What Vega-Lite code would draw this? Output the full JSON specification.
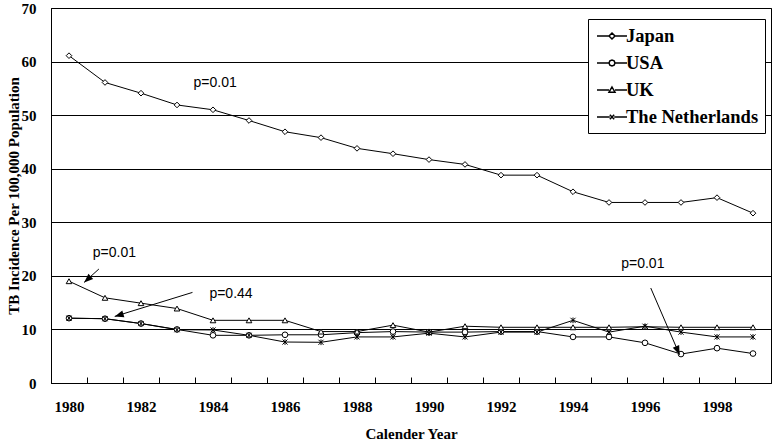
{
  "$schema": "https://vega.github.io/schema/vega-lite/v6.json",
  "width": 720,
  "height": 375,
  "autosize": {"type": "none"},
  "padding": {"left": 51, "top": 8, "right": 7, "bottom": 63},
  "background": "white",
  "config": {
    "view": {"stroke": "black", "strokeWidth": 1},
    "font": "Liberation Serif"
  },
  "datasets": {
    "tb": [
      {"country": "Japan", "year": 1980, "value": 61.1},
      {"country": "Japan", "year": 1981, "value": 56.1},
      {"country": "Japan", "year": 1982, "value": 54.1},
      {"country": "Japan", "year": 1983, "value": 51.9},
      {"country": "Japan", "year": 1984, "value": 51.0},
      {"country": "Japan", "year": 1985, "value": 49.0},
      {"country": "Japan", "year": 1986, "value": 46.9},
      {"country": "Japan", "year": 1987, "value": 45.8},
      {"country": "Japan", "year": 1988, "value": 43.8},
      {"country": "Japan", "year": 1989, "value": 42.8},
      {"country": "Japan", "year": 1990, "value": 41.7},
      {"country": "Japan", "year": 1991, "value": 40.8},
      {"country": "Japan", "year": 1992, "value": 38.8},
      {"country": "Japan", "year": 1993, "value": 38.8},
      {"country": "Japan", "year": 1994, "value": 35.7},
      {"country": "Japan", "year": 1995, "value": 33.7},
      {"country": "Japan", "year": 1996, "value": 33.7},
      {"country": "Japan", "year": 1997, "value": 33.7},
      {"country": "Japan", "year": 1998, "value": 34.6},
      {"country": "Japan", "year": 1999, "value": 31.7},
      {"country": "USA", "year": 1980, "value": 12.1},
      {"country": "USA", "year": 1981, "value": 12.0},
      {"country": "USA", "year": 1982, "value": 11.1},
      {"country": "USA", "year": 1983, "value": 10.0},
      {"country": "USA", "year": 1984, "value": 8.9},
      {"country": "USA", "year": 1985, "value": 8.9},
      {"country": "USA", "year": 1986, "value": 9.0},
      {"country": "USA", "year": 1987, "value": 9.0},
      {"country": "USA", "year": 1988, "value": 9.4},
      {"country": "USA", "year": 1989, "value": 9.6},
      {"country": "USA", "year": 1990, "value": 9.5},
      {"country": "USA", "year": 1991, "value": 9.5},
      {"country": "USA", "year": 1992, "value": 9.6},
      {"country": "USA", "year": 1993, "value": 9.6},
      {"country": "USA", "year": 1994, "value": 8.6},
      {"country": "USA", "year": 1995, "value": 8.6},
      {"country": "USA", "year": 1996, "value": 7.5},
      {"country": "USA", "year": 1997, "value": 5.4},
      {"country": "USA", "year": 1998, "value": 6.5},
      {"country": "USA", "year": 1999, "value": 5.5},
      {"country": "UK", "year": 1980, "value": 19.0},
      {"country": "UK", "year": 1981, "value": 15.9},
      {"country": "UK", "year": 1982, "value": 14.9},
      {"country": "UK", "year": 1983, "value": 13.9},
      {"country": "UK", "year": 1984, "value": 11.7},
      {"country": "UK", "year": 1985, "value": 11.7},
      {"country": "UK", "year": 1986, "value": 11.7},
      {"country": "UK", "year": 1987, "value": 9.6},
      {"country": "UK", "year": 1988, "value": 9.6},
      {"country": "UK", "year": 1989, "value": 10.8},
      {"country": "UK", "year": 1990, "value": 9.5},
      {"country": "UK", "year": 1991, "value": 10.6},
      {"country": "UK", "year": 1992, "value": 10.4},
      {"country": "UK", "year": 1993, "value": 10.4},
      {"country": "UK", "year": 1994, "value": 10.4},
      {"country": "UK", "year": 1995, "value": 10.4},
      {"country": "UK", "year": 1996, "value": 10.5},
      {"country": "UK", "year": 1997, "value": 10.4},
      {"country": "UK", "year": 1998, "value": 10.4},
      {"country": "UK", "year": 1999, "value": 10.4},
      {"country": "The Netherlands", "year": 1980, "value": 12.1},
      {"country": "The Netherlands", "year": 1981, "value": 12.0},
      {"country": "The Netherlands", "year": 1982, "value": 11.1},
      {"country": "The Netherlands", "year": 1983, "value": 9.95},
      {"country": "The Netherlands", "year": 1984, "value": 9.9},
      {"country": "The Netherlands", "year": 1985, "value": 8.9},
      {"country": "The Netherlands", "year": 1986, "value": 7.65},
      {"country": "The Netherlands", "year": 1987, "value": 7.6},
      {"country": "The Netherlands", "year": 1988, "value": 8.6},
      {"country": "The Netherlands", "year": 1989, "value": 8.6},
      {"country": "The Netherlands", "year": 1990, "value": 9.3},
      {"country": "The Netherlands", "year": 1991, "value": 8.6},
      {"country": "The Netherlands", "year": 1992, "value": 9.5},
      {"country": "The Netherlands", "year": 1993, "value": 9.5},
      {"country": "The Netherlands", "year": 1994, "value": 11.7},
      {"country": "The Netherlands", "year": 1995, "value": 9.5},
      {"country": "The Netherlands", "year": 1996, "value": 10.6},
      {"country": "The Netherlands", "year": 1997, "value": 9.5},
      {"country": "The Netherlands", "year": 1998, "value": 8.6},
      {"country": "The Netherlands", "year": 1999, "value": 8.6}
    ],
    "notes": [
      {"label": "p=0.01", "year": 1984.06, "value": 56.0},
      {"label": "p=0.01", "year": 1981.26, "value": 24.27},
      {"label": "p=0.44", "year": 1984.5, "value": 16.67},
      {"label": "p=0.01", "year": 1995.94, "value": 22.2}
    ],
    "arrows": [
      {"id": "a1", "year": 1980.83, "value": 21.28, "year2": 1980.42, "value2": 18.78},
      {"id": "a2", "year": 1983.43, "value": 16.91, "year2": 1981.27, "value2": 12.43},
      {"id": "a3", "year": 1996.16, "value": 17.73, "year2": 1996.96, "value2": 5.28}
    ]
  },
  "encoding": {
    "x": {
      "field": "year",
      "type": "quantitative",
      "scale": {"domain": [1979.5, 1999.5], "nice": false, "zero": false},
      "axis": {
        "title": "Calender Year",
        "values": [1979.5, 1980.5, 1981.5, 1982.5, 1983.5, 1984.5, 1985.5, 1986.5, 1987.5, 1988.5, 1989.5, 1990.5, 1991.5, 1992.5, 1993.5, 1994.5, 1995.5, 1996.5, 1997.5, 1998.5],
        "labelExpr": "(datum.value - 0.5) % 2 == 0 ? format(datum.value - 0.5, 'd') : ''",
        "labelOffset": -18,
        "labelOverlap": false,
        "labelFlush": false,
        "tickSize": -6,
        "tickColor": "black",
        "domainColor": "black",
        "grid": false,
        "labelFont": "Liberation Serif",
        "labelFontWeight": "bold",
        "labelFontSize": 15,
        "labelColor": "black",
        "labelPadding": 22,
        "titleFont": "Liberation Serif",
        "titleFontWeight": "bold",
        "titleFontSize": 15,
        "titleColor": "black",
        "titlePadding": 12
      }
    },
    "y": {
      "field": "value",
      "type": "quantitative",
      "scale": {"domain": [0, 70], "nice": false},
      "axis": {
        "title": "TB Incidence Per 100,000 Population",
        "values": [0, 10, 20, 30, 40, 50, 60, 70],
        "grid": true,
        "gridColor": "black",
        "gridOpacity": 1,
        "gridWidth": 1,
        "tickSize": 0,
        "domainColor": "black",
        "labelFont": "Liberation Serif",
        "labelFontWeight": "bold",
        "labelFontSize": 15,
        "labelColor": "black",
        "labelPadding": 15,
        "titleFont": "Liberation Serif",
        "titleFontWeight": "bold",
        "titleFontSize": 15,
        "titleColor": "black",
        "titlePadding": 0
      }
    }
  },
  "resolve": {"scale": {"shape": "independent"}, "legend": {"shape": "independent"}},
  "layer": [
    {
      "data": {"name": "tb"},
      "mark": {"type": "line", "color": "black", "strokeWidth": 1},
      "encoding": {"detail": {"field": "country"}}
    },
    {
      "data": {"name": "tb"},
      "mark": {"type": "point", "filled": false, "color": "black", "fill": "white", "fillOpacity": 1, "strokeWidth": 1, "size": 32, "opacity": 1},
      "encoding": {
        "shape": {
          "field": "country",
          "type": "nominal",
          "scale": {
            "domain": ["Japan", "USA", "UK", "The Netherlands"],
            "range": ["diamond", "circle", "triangle-up", "M-0.9,-0.9L0.9,0.9M-0.9,0.9L0.9,-0.9M0,-1L0,1"]
          },
          "legend": null
        }
      }
    },
    {
      "data": {"name": "tb"},
      "mark": {"type": "point", "filled": false, "color": "black", "fill": "white", "fillOpacity": 1, "strokeWidth": 1, "size": 32, "opacity": 0},
      "encoding": {
        "shape": {
          "field": "country",
          "type": "nominal",
          "scale": {
            "domain": ["Japan", "USA", "UK", "The Netherlands"],
            "range": [
              "M-1.5,0L-0.3,0M0.3,0L1.5,0M0,-0.3L0.3,0L0,0.3L-0.3,0Z",
              "M-1.5,0L-0.3,0M0.3,0L1.5,0M0.3,0L0.212,0.212L0,0.3L-0.212,0.212L-0.3,0L-0.212,-0.212L0,-0.3L0.212,-0.212Z",
              "M-1.5,0L-0.3,0M0.3,0L1.5,0M0,-0.3L0.3,0.22L-0.3,0.22Z",
              "M-1.5,0L-0.22,0M0.22,0L1.5,0M-0.22,-0.22L0.22,0.22M-0.22,0.22L0.22,-0.22"
            ]
          },
          "legend": {
            "orient": "none",
            "legendX": 537,
            "legendY": 11,
            "title": null,
            "symbolSize": 400,
            "symbolOffset": 7,
            "symbolOpacity": 1,
            "labelFont": "Liberation Serif",
            "labelFontWeight": "bold",
            "labelFontSize": 18.5,
            "labelColor": "black",
            "labelOffset": 3,
            "strokeColor": "black",
            "fillColor": "white",
            "padding": 6,
            "rowPadding": 6
          }
        }
      }
    },
    {
      "data": {"name": "arrows"},
      "mark": {"type": "rule", "color": "black", "strokeWidth": 1},
      "encoding": {
        "x2": {"field": "year2"},
        "y2": {"field": "value2"}
      }
    },
    {
      "data": {"name": "arrows"},
      "transform": [{"filter": "datum.id === 'a1'"}],
      "mark": {"type": "point", "shape": "M0,0L0.7,1.8L-0.7,1.8Z", "size": 100, "angle": 228, "filled": true, "color": "black", "opacity": 1},
      "encoding": {
        "x": {"field": "year2", "type": "quantitative"},
        "y": {"field": "value2", "type": "quantitative"}
      }
    },
    {
      "data": {"name": "arrows"},
      "transform": [{"filter": "datum.id === 'a2'"}],
      "mark": {"type": "point", "shape": "M0,0L0.7,1.8L-0.7,1.8Z", "size": 100, "angle": 253, "filled": true, "color": "black", "opacity": 1},
      "encoding": {
        "x": {"field": "year2", "type": "quantitative"},
        "y": {"field": "value2", "type": "quantitative"}
      }
    },
    {
      "data": {"name": "arrows"},
      "transform": [{"filter": "datum.id === 'a3'"}],
      "mark": {"type": "point", "shape": "M0,0L0.7,1.8L-0.7,1.8Z", "size": 100, "angle": 156.5, "filled": true, "color": "black", "opacity": 1},
      "encoding": {
        "x": {"field": "year2", "type": "quantitative"},
        "y": {"field": "value2", "type": "quantitative"}
      }
    },
    {
      "data": {"name": "notes"},
      "mark": {"type": "text", "font": "Liberation Sans", "fontSize": 14, "color": "black", "align": "center", "baseline": "middle"},
      "encoding": {"text": {"field": "label"}}
    }
  ]
}
